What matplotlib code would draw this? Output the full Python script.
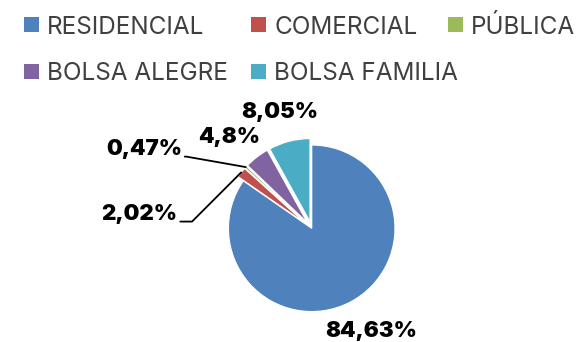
import matplotlib
matplotlib.use("Agg")
import matplotlib.pyplot as plt
from matplotlib.patches import Rectangle
import numpy as np

# Consumo por classe
categories = ["RESIDENCIAL", "COMERCIAL", "PÚBLICA", "BOLSA ALEGRE", "BOLSA FAMILIA"]
values = [84.63, 2.02, 0.47, 4.8, 8.05]
colors = ["#4F81BD", "#C0504D", "#9BBB59", "#8064A2", "#4BACC6"]
explode = [0, 0.08, 0.08, 0.08, 0.08]

W, H = 577, 342
fig = plt.figure(figsize=(W / 100, H / 100), dpi=100)
fig.patch.set_facecolor("white")

# pie axes: centre and radius in pixels
cx, cy, R = 311.7, 228.3, 83.3
ax = fig.add_axes([(cx - R) / W, (H - cy - R) / H, 2 * R / W, 2 * R / H])
wedges, _ = ax.pie(values, colors=colors, startangle=90, counterclock=False,
                   explode=explode, radius=1,
                   wedgeprops=dict(edgecolor="white", linewidth=0.9))
ax.set_xlim(-1, 1)
ax.set_ylim(-1, 1)
ax.set_aspect("equal")
ax.axis("off")

def fmt(v):
    return f"{v:g}".replace(".", ",") + "%"

label_font = dict(family="Inter", fontsize=16, fontweight="black", color="black")

# text positions (axes data units)
label_pos = [(0.711, -1.233), (-2.067, 0.172), (-2.013, 0.952),
             (-0.987, 1.102), (-0.381, 1.396)]
# leader line bend angle for the thin slices (None = no leader)
leader_angle = [None, 45, -10, None, None]

for w, v, pos, ang in zip(wedges, values, label_pos, leader_angle):
    mid = np.deg2rad((w.theta1 + w.theta2) / 2)
    ex, ey = w.center
    tip = (ex + w.r * np.cos(mid), ey + w.r * np.sin(mid))
    if ang is None:
        ax.text(pos[0], pos[1], fmt(v), ha="center", va="center",
                clip_on=False, **label_font)
    else:
        ax.annotate(fmt(v), xy=tip, xytext=pos, ha="center", va="center",
                    annotation_clip=False,
                    arrowprops=dict(arrowstyle="-", color="black", lw=1.3,
                                    relpos=(1.0, 0.12), shrinkA=0, shrinkB=0,
                                    connectionstyle=f"angle,angleA=0,angleB={ang},rad=0"),
                    **label_font)

# legend, drawn in figure pixel coordinates
leg_rows = [24.5, 71.5]
leg_cols = [24, 251, 448]
slots = [(0, 0), (0, 1), (0, 2), (1, 0), (1, 1)]
sq = 15
for (r, c), name, col in zip(slots, categories, colors):
    x0 = leg_cols[c]
    yc = leg_rows[r]
    fig.patches.append(Rectangle((x0 / W, (H - yc - sq / 2) / H), sq / W, sq / H,
                                 transform=fig.transFigure, facecolor=col,
                                 edgecolor="none"))
    fig.text((x0 + 23) / W, (H - yc) / H, name, ha="left", va="center_baseline",
             family="Inter", fontsize=17.5, color="#404040")

fig.savefig("out.png", dpi=100)
